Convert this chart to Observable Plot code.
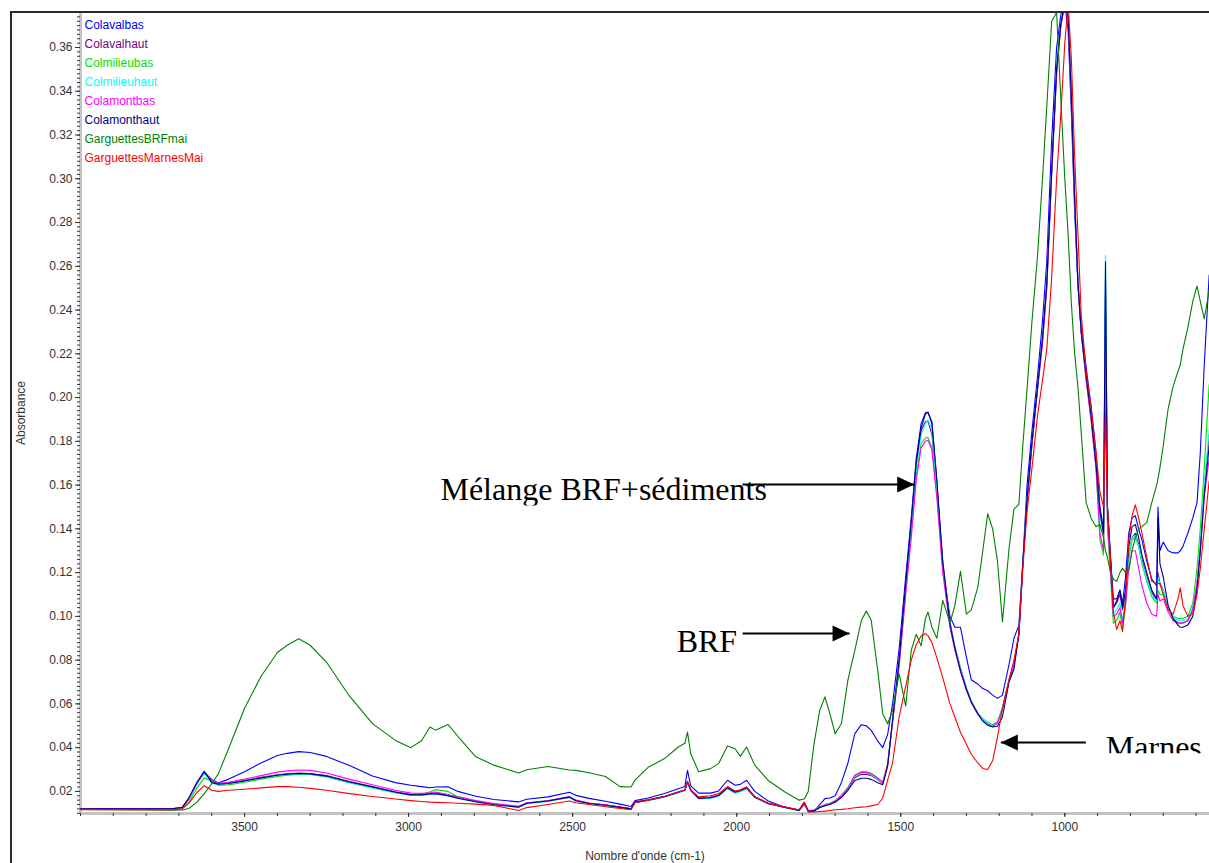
<!DOCTYPE html>
<html>
<head>
<meta charset="utf-8">
<script src="https://cdn.jsdelivr.net/npm/d3@7"></script>
<script src="https://cdn.jsdelivr.net/npm/@observablehq/plot@0.6"></script>
<style>
html, body { margin: 0; padding: 0; background: #fff; }
#wrap { position: relative; width: 1209px; height: 863px; overflow: hidden; background: #fff; }
#outer { position: absolute; left: 10px; top: 11px; width: 1199px; height: 852px; border-left: 2px solid #2a2a2a; border-top: 2px solid #2a2a2a; pointer-events: none; }
</style>
</head>
<body>
<div id="wrap"><div id="chart"></div><div id="outer"></div></div>
<script>
// Wavenumbers (cm-1), shared by every spectrum
const wavenumbers = [
  4000,3720,3690,3670,3645,3623,3600,3580,3550,3500,
  3450,3400,3370,3335,3300,3250,3180,3110,3040,2993,
  2960,2935,2918,2880,2850,2795,2740,2665,2640,2575,
  2510,2490,2450,2400,2356,2322,2310,2270,2220,2178,
  2158,2150,2140,2116,2080,2055,2028,2005,1989,1970,
  1945,1904,1853,1810,1794,1782,1765,1747,1731,1716,
  1700,1681,1661,1640,1620,1605,1590,1570,1555,1540,
  1525,1505,1485,1468,1453,1438,1425,1417,1405,1390,
  1372,1350,1335,1318,1300,1285,1265,1250,1235,1220,
  1205,1190,1170,1155,1140,1128,1115,1100,1083,1068,
  1055,1040,1025,1012,1000,990,980,970,960,950,
  935,920,905,893,882,876,870,862,852,842,
  832,824,815,805,795,785,775,765,750,735,
  720,716,710,700,685,670,655,648,640,625,
  610,597,587,575,560
];

const colavalbas = [
  .0121,.0121,.0125,.0165,.0235,.0288,.0255,.0238,.0255,.0290,
  .0330,.0364,.0374,.0382,.0378,.0360,.0318,.0270,.0240,.0228,
  .0222,.0217,.0220,.0221,.0200,.0178,.0163,.0152,.0164,.0175,
  .0196,.0182,.0168,.0155,.0142,.0131,.0158,.0170,.0190,.0212,
  .0222,.0296,.0225,.0192,.0192,.0202,.0251,.0228,.0232,.0251,
  .0200,.0156,.0128,.0114,.0148,.0110,.0108,.0140,.0167,.0170,
  .0180,.0240,.0330,.0464,.0505,.0500,.0479,.0430,.0400,.0460,
  .0600,.0850,.1180,.1450,.1720,.1880,.1930,.1932,.1890,.1620,
  .1220,.1000,.0950,.0950,.0814,.0710,.0690,.0670,.0660,.0640,
  .0625,.0640,.0780,.0900,.0960,.1250,.1600,.1850,.2100,.2350,
  .2620,.3180,.3600,.3750,.3800,.3680,.3300,.2850,.2520,.2320,
  .2140,.1960,.1750,.1500,.1400,.2550,.1500,.1300,.1080,.1080,
  .1120,.1060,.1180,.1380,.1450,.1460,.1400,.1350,.1250,.1170,
  .1140,.1500,.1300,.1340,.1300,.1290,.1290,.1300,.1320,.1380,
  .1450,.1520,.1750,.2150,.2560
];

const colavalhaut = [
  .0121,.0121,.0126,.0168,.0240,.0290,.0245,.0232,.0238,.0250,
  .0264,.0276,.0280,.0284,.0282,.0272,.0245,.0222,.0198,.0186,
  .0186,.0190,.0192,.0182,.0172,.0156,.0142,.0130,.0146,.0156,
  .0174,.0158,.0146,.0138,.0128,.0120,.0150,.0160,.0176,.0196,
  .0205,.0243,.0205,.0170,.0172,.0182,.0218,.0198,.0205,.0218,
  .0175,.0146,.0128,.0114,.0146,.0110,.0112,.0126,.0136,.0142,
  .0152,.0175,.0210,.0262,.0278,.0278,.0272,.0254,.0236,.0320,
  .0520,.0790,.1140,.1420,.1690,.1850,.1890,.1892,.1830,.1600,
  .1250,.0975,.0860,.0765,.0672,.0612,.0555,.0527,.0512,.0497,
  .0515,.0580,.0710,.0780,.0920,.1240,.1530,.1790,.2050,.2270,
  .2520,.3040,.3500,.3710,.3800,.3740,.3370,.2900,.2520,.2300,
  .2100,.1920,.1700,.1480,.1380,.2450,.1480,.1280,.1040,.1060,
  .1100,.1030,.1100,.1280,.1360,.1380,.1330,.1260,.1180,.1110,
  .1070,.1200,.1150,.1120,.1040,.0990,.0970,.0970,.0970,.0980,
  .1030,.1150,.1320,.1580,.1830
];

const colmilieubas = [
  .0120,.0120,.0122,.0150,.0215,.0262,.0245,.0228,.0230,.0242,
  .0256,.0268,.0274,.0278,.0277,.0266,.0240,.0216,.0194,.0183,
  .0186,.0198,.0208,.0200,.0176,.0156,.0142,.0130,.0146,.0157,
  .0174,.0158,.0146,.0138,.0128,.0120,.0152,.0162,.0177,.0196,
  .0206,.0244,.0206,.0170,.0172,.0182,.0218,.0198,.0204,.0218,
  .0175,.0146,.0128,.0114,.0140,.0112,.0116,.0130,.0140,.0146,
  .0158,.0182,.0218,.0275,.0290,.0290,.0283,.0262,.0242,.0325,
  .0520,.0780,.1110,.1380,.1640,.1790,.1815,.1818,.1770,.1560,
  .1220,.0960,.0850,.0755,.0668,.0610,.0558,.0532,.0516,.0505,
  .0520,.0585,.0712,.0782,.0920,.1240,.1530,.1790,.2040,.2250,
  .2500,.3020,.3480,.3700,.3800,.3740,.3380,.2920,.2530,.2300,
  .2080,.1900,.1680,.1350,.1280,.2050,.1400,.1220,.0970,.0980,
  .1020,.0940,.1050,.1260,.1350,.1360,.1320,.1240,.1160,.1090,
  .1060,.1120,.1100,.1100,.1040,.1000,.0990,.0990,.0990,.1000,
  .1060,.1220,.1400,.1680,.2060
];

const colmilieuhaut = [
  .0122,.0122,.0125,.0162,.0232,.0282,.0238,.0232,.0236,.0248,
  .0262,.0274,.0278,.0281,.0279,.0268,.0240,.0217,.0194,.0182,
  .0182,.0186,.0188,.0178,.0168,.0152,.0138,.0128,.0143,.0154,
  .0172,.0155,.0143,.0135,.0125,.0118,.0150,.0158,.0174,.0193,
  .0203,.0240,.0202,.0165,.0168,.0177,.0212,.0192,.0198,.0212,
  .0170,.0143,.0125,.0112,.0142,.0110,.0114,.0128,.0138,.0144,
  .0154,.0178,.0213,.0268,.0284,.0284,.0276,.0256,.0238,.0322,
  .0522,.0790,.1130,.1410,.1680,.1830,.1880,.1900,.1850,.1590,
  .1240,.0970,.0858,.0762,.0672,.0613,.0560,.0530,.0514,.0500,
  .0512,.0578,.0708,.0778,.0918,.1240,.1530,.1790,.2050,.2260,
  .2520,.3040,.3500,.3710,.3800,.3740,.3370,.2900,.2520,.2300,
  .2100,.1920,.1700,.1460,.1380,.2650,.1480,.1260,.1010,.1030,
  .1060,.0980,.1080,.1280,.1360,.1370,.1320,.1250,.1170,.1100,
  .1070,.1180,.1140,.1120,.1040,.1000,.0980,.0980,.0980,.0990,
  .1040,.1160,.1340,.1600,.1850
];

const colamontbas = [
  .0122,.0122,.0125,.0165,.0238,.0286,.0248,.0236,.0242,.0256,
  .0272,.0288,.0294,.0298,.0296,.0284,.0255,.0230,.0205,.0192,
  .0191,.0194,.0197,.0186,.0175,.0158,.0144,.0132,.0148,.0158,
  .0176,.0160,.0147,.0139,.0129,.0121,.0152,.0162,.0178,.0198,
  .0208,.0246,.0208,.0172,.0174,.0184,.0220,.0200,.0206,.0220,
  .0176,.0147,.0128,.0114,.0140,.0110,.0112,.0128,.0138,.0145,
  .0156,.0180,.0216,.0272,.0288,.0287,.0280,.0260,.0240,.0322,
  .0515,.0770,.1100,.1360,.1620,.1770,.1800,.1805,.1760,.1540,
  .1200,.0950,.0845,.0748,.0662,.0605,.0552,.0522,.0505,.0498,
  .0510,.0575,.0705,.0778,.0915,.1235,.1525,.1785,.2040,.2250,
  .2500,.3020,.3480,.3700,.3800,.3740,.3380,.2920,.2530,.2300,
  .2080,.1900,.1680,.1380,.1300,.2280,.1450,.1240,.1000,.1010,
  .1040,.0970,.1050,.1220,.1300,.1300,.1220,.1140,.1060,.1010,
  .1000,.1100,.1070,.1080,.1020,.0980,.0970,.0970,.0970,.0980,
  .1030,.1150,.1300,.1550,.1720
];

const colamonthaut = [
  .0121,.0121,.0127,.0170,.0242,.0292,.0240,.0233,.0236,.0248,
  .0262,.0274,.0279,.0282,.0280,.0270,.0243,.0220,.0196,.0184,
  .0184,.0188,.0190,.0180,.0169,.0153,.0139,.0128,.0146,.0156,
  .0174,.0157,.0145,.0137,.0127,.0120,.0150,.0160,.0176,.0196,
  .0206,.0244,.0205,.0168,.0171,.0181,.0216,.0196,.0203,.0216,
  .0174,.0145,.0127,.0113,.0150,.0110,.0110,.0126,.0134,.0140,
  .0150,.0172,.0205,.0250,.0260,.0260,.0255,.0240,.0230,.0315,
  .0525,.0800,.1150,.1430,.1700,.1860,.1925,.1934,.1880,.1620,
  .1250,.0965,.0855,.0752,.0668,.0608,.0555,.0522,.0502,.0494,
  .0498,.0540,.0700,.0758,.0920,.1240,.1540,.1800,.2050,.2270,
  .2520,.3040,.3500,.3710,.3800,.3740,.3370,.2900,.2520,.2300,
  .2100,.1920,.1700,.1480,.1380,.2620,.1500,.1300,.1040,.1070,
  .1120,.1040,.1120,.1320,.1410,.1420,.1360,.1280,.1200,.1120,
  .1080,.1450,.1240,.1180,.1050,.0990,.0960,.0950,.0950,.0960,
  .1000,.1120,.1300,.1550,.1780
];

const garguettesBRFmai = [
  .0118,.0114,.0115,.0122,.0151,.0190,.0235,.0280,.0390,.0580,
  .0725,.0835,.0868,.0898,.0868,.0790,.0635,.0510,.0433,.0400,
  .0433,.0494,.0480,.0506,.0452,.0358,.0320,.0284,.0299,.0314,
  .0298,.0296,.0285,.0268,.0222,.0220,.0252,.0310,.0350,.0403,
  .0420,.0471,.0372,.0290,.0304,.0327,.0408,.0395,.0360,.0403,
  .0320,.0250,.0197,.0160,.0165,.0200,.0410,.0570,.0632,.0555,
  .0464,.0509,.0710,.0845,.0982,.1024,.0982,.0750,.0555,.0509,
  .0570,.0738,.0590,.0845,.0918,.0865,.0990,.1020,.0950,.0900,
  .1073,.0970,.1050,.1206,.1010,.1030,.1134,.1300,.1469,.1400,
  .1250,.0974,.1310,.1490,.1512,.1780,.2040,.2350,.2650,.3000,
  .3330,.3720,.3760,.3360,.3000,.2750,.2430,.2200,.2050,.1840,
  .1520,.1450,.1410,.1420,.1360,.1300,.1270,.1210,.1170,.1160,
  .1200,.1220,.1200,.1210,.1300,.1360,.1400,.1410,.1430,.1520,
  .1600,.1630,.1680,.1780,.1950,.2050,.2120,.2150,.2220,.2320,
  .2440,.2510,.2440,.2360,.2490
];

const garguettesMarnesMai = [
  .0116,.0116,.0120,.0145,.0195,.0226,.0205,.0200,.0205,.0210,
  .0216,.0222,.0222,.0219,.0214,.0205,.0190,.0177,.0165,.0158,
  .0154,.0151,.0150,.0148,.0146,.0142,.0136,.0113,.0126,.0140,
  .0156,.0148,.0140,.0130,.0122,.0116,.0148,.0160,.0177,.0196,
  .0206,.0243,.0205,.0175,.0180,.0190,.0222,.0202,.0206,.0220,
  .0176,.0144,.0128,.0116,.0151,.0106,.0106,.0108,.0110,.0113,
  .0116,.0118,.0121,.0125,.0128,.0130,.0134,.0140,.0170,.0250,
  .0330,.0540,.0680,.0800,.0870,.0910,.0921,.0912,.0880,.0810,
  .0720,.0600,.0540,.0470,.0415,.0370,.0330,.0305,.0300,.0340,
  .0450,.0580,.0710,.0800,.0920,.1220,.1480,.1680,.1920,.2080,
  .2220,.2550,.3000,.3300,.3620,.3800,.3550,.3100,.2750,.2380,
  .2120,.1960,.1750,.1570,.1500,.1930,.1500,.1300,.1020,.0940,
  .0980,.0930,.1080,.1350,.1460,.1510,.1450,.1380,.1270,.1160,
  .1150,.1150,.1150,.1100,.1030,.1010,.1080,.1130,.1050,.1000,
  .1010,.1100,.1220,.1400,.1620
];

const seriesNames = ["Colavalbas","Colavalhaut","Colmilieubas","Colmilieuhaut","Colamontbas","Colamonthaut","GarguettesBRFmai","GarguettesMarnesMai"];
const seriesValues = [colavalbas, colavalhaut, colmilieubas, colmilieuhaut, colamontbas, colamonthaut, garguettesBRFmai, garguettesMarnesMai];
const seriesColors = ["#0000ff","#800080","#00e000","#00ffff","#ff00ff","#000080","#008000","#ff0000"];

const yTicks = [0.02,0.04,0.06,0.08,0.10,0.12,0.14,0.16,0.18,0.20,0.22,0.24,0.26,0.28,0.30,0.32,0.34,0.36];
const xTicks = [3500, 3000, 2500, 2000, 1500, 1000];
const xDomain = [4000, 559];
const yDomain = [0.0099, 0.376];

// annotations (data coordinates)
const annotationLabels = ["Mélange BRF+sédiments", "BRF", "Marnes"];
const annotationX = [2903, 2183, 875];
const annotationY = [0.1530, 0.0835, 0.0351];
const annotationClip = [0.1507, null, 0.0374];
const arrowFrom = [1982, 1982, 936];
const arrowTo = [1459, 1656, 1195];
const arrowY = [0.1603, 0.0922, 0.0424];

const rows = [];
seriesNames.forEach((name, s) => {
  wavenumbers.forEach((w, i) => rows.push({name, w, a: seriesValues[s][i]}));
});

let clipCount = 0;
function clipBelow(v) {
  return function (index, scales, values, dimensions, context, next) {
    const g = next(index, scales, values, dimensions, context);
    if (v == null) return g;
    const id = "annclip" + (clipCount++);
    const sel = d3.select(g);
    const cp = sel.insert("clipPath", ":first-child").attr("id", id);
    cp.append("rect").attr("x", 0).attr("y", 0).attr("width", dimensions.width).attr("height", scales.y(v));
    sel.attr("clip-path", `url(#${id})`);
    return g;
  };
}

const yMinor = d3.range(0.01, 0.3761, 0.002).map(d => +d.toFixed(3));
const xMinor = d3.range(600, 4001, 100);
const serif = "'Liberation Serif', 'Times New Roman', serif";

const marks = [
  Plot.ruleX([xDomain[0]], {stroke: "#c4c4c4", strokeWidth: 3}),
  Plot.ruleY([yDomain[0]], {stroke: "#c4c4c4", strokeWidth: 3}),
  Plot.axisY(yMinor, {tickSize: 3, tickFormat: () => "", label: null, color: "#333"}),
  Plot.axisY(yTicks, {tickSize: 5, tickPadding: 3, tickFormat: d3.format(".2f"), color: "#333",
    label: "Absorbance", labelAnchor: "center", labelArrow: "none", labelOffset: 64}),
  Plot.axisX(xMinor, {tickSize: 3, tickFormat: () => "", label: null, color: "#333"}),
  Plot.axisX(xTicks, {tickSize: 4, tickPadding: 5, tickFormat: d3.format("d"), color: "#333",
    label: "Nombre d'onde (cm-1)", labelAnchor: "center", labelArrow: "none", labelOffset: 46}),
  Plot.line(rows, {x: "w", y: "a", z: "name", stroke: "name", strokeWidth: 1.1, clip: true}),
  ...seriesNames.map((name, i) => Plot.text([name], {
    frameAnchor: "top-left", dx: 4, dy: 8 + 19 * i, text: d => d, fill: seriesColors[i],
    fontSize: 12, textAnchor: "start"
  })),
  Plot.link(d3.range(arrowFrom.length), {
    x1: i => arrowFrom[i], x2: i => arrowTo[i], y1: i => arrowY[i], y2: i => arrowY[i],
    stroke: "#000", strokeWidth: 2,
    render(index, scales, values, dimensions, context, next) {
      const g = next(index, scales, values, dimensions, context);
      const sel = d3.select(g);
      for (const i of index) {
        const x1 = values.x1[i], x2 = values.x2[i], y = values.y2[i];
        const d = Math.sign(x2 - x1);
        sel.append("path").attr("d", `M${x2},${y}L${x2 - d * 17},${y - 8}L${x2 - d * 17},${y + 8}Z`).attr("fill", "#000").attr("stroke", "none");
      }
      return g;
    }
  }),
  ...annotationLabels.map((label, i) => Plot.text([i], {
    x: j => annotationX[j], y: j => annotationY[j], text: () => label,
    textAnchor: "start", lineAnchor: "bottom", fontSize: 32, fontFamily: serif, fill: "#000",
    render: clipBelow(annotationClip[i])
  }))
];

const chart = Plot.plot({
  width: 1209,
  height: 863,
  marginLeft: 80,
  marginRight: 0,
  marginTop: 12,
  marginBottom: 50,
  style: {fontFamily: "'Liberation Sans', Arial, sans-serif", fontSize: "12px", background: "transparent", color: "#333"},
  x: {domain: xDomain},
  y: {domain: yDomain},
  color: {domain: seriesNames, range: seriesColors},
  marks
});
document.getElementById("chart").appendChild(chart);
</script>
</body>
</html>
